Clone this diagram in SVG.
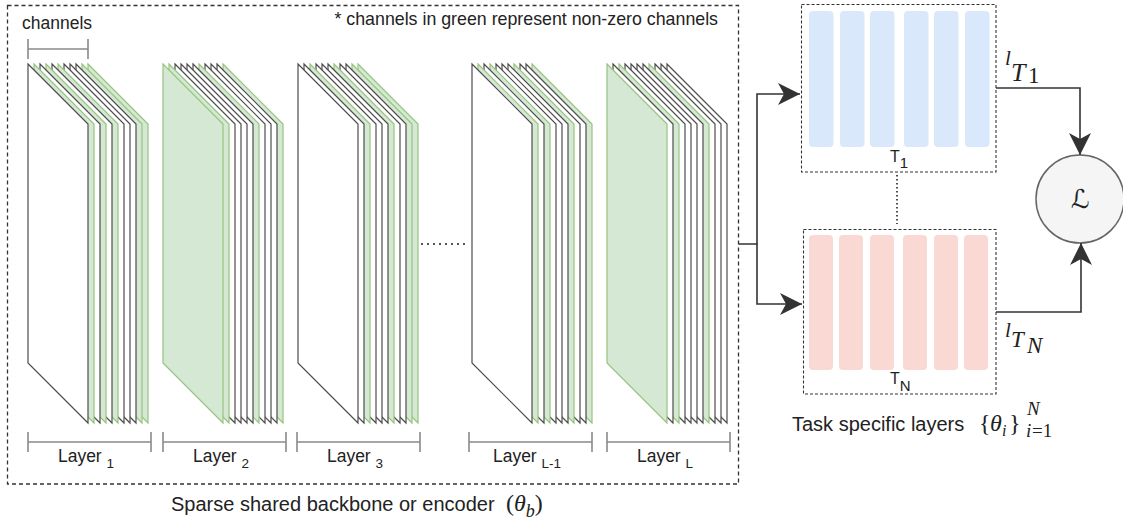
<svg xmlns="http://www.w3.org/2000/svg" xmlns:xlink="http://www.w3.org/1999/xlink" width="1123" height="525" viewBox="0 0 1123 525">
<style>
.w{fill:#ffffff;stroke:#4d4d4d;stroke-width:1.2}
.g{fill:#d5e8d4;stroke:#97c47f;stroke-width:1.2}
.br{fill:none;stroke:#8a8a8a;stroke-width:1.6}
.t{font-family:"Liberation Sans",Arial,sans-serif;fill:#222}
.m{font-family:"Liberation Serif","DejaVu Serif",serif;font-style:italic;fill:#222}
.up{font-style:normal}
.conn{fill:none;stroke:#333;stroke-width:1.6}
.tb{fill:none;stroke:#333;stroke-width:1.1;stroke-dasharray:3 2}
.blue{fill:#dae8fc}
.pink{fill:#fad9d5}
</style>
<defs>
<polygon id="sheet" points="0,0 60,60 60,359 0,299"/>
<marker id="arr" markerUnits="userSpaceOnUse" markerWidth="24" markerHeight="24" refX="22" refY="11" orient="auto" viewBox="0 0 24 24">
<path d="M0,0 L22,11 L0,22 L6,11 z" fill="#333"/>
</marker>
</defs>

<g id="backbone">
<rect x="7.5" y="5.5" width="731" height="478.5" fill="none" stroke="#333" stroke-width="1.3" stroke-dasharray="4 3"/>
<text class="t" x="718" y="25" font-size="17.8" text-anchor="end">* channels in green represent non-zero channels</text>
<g id="channels-bracket">
<text class="t" x="22" y="29" font-size="17.5">channels</text>
<path class="br" d="M28,39 V59 M88,39 V59 M28,49 H88"/>
</g>
</g>

<g id="layer1">
<use xlink:href="#sheet" x="88" y="64" class="g"/>
<use xlink:href="#sheet" x="82" y="64" class="g"/>
<use xlink:href="#sheet" x="76" y="64" class="w"/>
<use xlink:href="#sheet" x="70" y="64" class="w"/>
<use xlink:href="#sheet" x="64" y="64" class="w"/>
<use xlink:href="#sheet" x="58" y="64" class="g"/>
<use xlink:href="#sheet" x="52" y="64" class="w"/>
<use xlink:href="#sheet" x="46" y="64" class="g"/>
<use xlink:href="#sheet" x="40" y="64" class="w"/>
<use xlink:href="#sheet" x="34" y="64" class="g"/>
<use xlink:href="#sheet" x="28" y="64" class="w"/>
<path class="br" d="M28,432 V452 M151,432 V452 M28,442 H151"/>
<text class="t" x="86" y="462" font-size="17.5" text-anchor="middle">Layer <tspan font-size="13.5" dy="6">1</tspan></text>
</g>

<g id="layer2">
<use xlink:href="#sheet" x="223" y="64" class="g"/>
<use xlink:href="#sheet" x="217" y="64" class="w"/>
<use xlink:href="#sheet" x="211" y="64" class="w"/>
<use xlink:href="#sheet" x="205" y="64" class="w"/>
<use xlink:href="#sheet" x="199" y="64" class="g"/>
<use xlink:href="#sheet" x="193" y="64" class="w"/>
<use xlink:href="#sheet" x="187" y="64" class="w"/>
<use xlink:href="#sheet" x="181" y="64" class="w"/>
<use xlink:href="#sheet" x="175" y="64" class="w"/>
<use xlink:href="#sheet" x="169" y="64" class="g"/>
<use xlink:href="#sheet" x="163" y="64" class="g"/>
<path class="br" d="M163,432 V452 M286,432 V452 M163,442 H286"/>
<text class="t" x="221" y="462" font-size="17.5" text-anchor="middle">Layer <tspan font-size="13.5" dy="6">2</tspan></text>
</g>

<g id="layer3">
<use xlink:href="#sheet" x="358" y="64" class="g"/>
<use xlink:href="#sheet" x="352" y="64" class="g"/>
<use xlink:href="#sheet" x="346" y="64" class="w"/>
<use xlink:href="#sheet" x="340" y="64" class="w"/>
<use xlink:href="#sheet" x="334" y="64" class="g"/>
<use xlink:href="#sheet" x="328" y="64" class="w"/>
<use xlink:href="#sheet" x="322" y="64" class="w"/>
<use xlink:href="#sheet" x="316" y="64" class="w"/>
<use xlink:href="#sheet" x="310" y="64" class="g"/>
<use xlink:href="#sheet" x="304" y="64" class="w"/>
<use xlink:href="#sheet" x="298" y="64" class="w"/>
<path class="br" d="M297,432 V452 M420,432 V452 M297,442 H420"/>
<text class="t" x="355" y="462" font-size="17.5" text-anchor="middle">Layer <tspan font-size="13.5" dy="6">3</tspan></text>
</g>

<g id="ellipsis">
<line x1="421" y1="244" x2="466" y2="244" stroke="#555" stroke-width="2" stroke-dasharray="2 4"/>
</g>

<g id="layerL-1">
<use xlink:href="#sheet" x="532" y="64" class="g"/>
<use xlink:href="#sheet" x="526" y="64" class="w"/>
<use xlink:href="#sheet" x="520" y="64" class="w"/>
<use xlink:href="#sheet" x="514" y="64" class="g"/>
<use xlink:href="#sheet" x="508" y="64" class="w"/>
<use xlink:href="#sheet" x="502" y="64" class="w"/>
<use xlink:href="#sheet" x="496" y="64" class="w"/>
<use xlink:href="#sheet" x="490" y="64" class="g"/>
<use xlink:href="#sheet" x="484" y="64" class="w"/>
<use xlink:href="#sheet" x="478" y="64" class="g"/>
<use xlink:href="#sheet" x="472" y="64" class="w"/>
<path class="br" d="M469,432 V452 M592,432 V452 M469,442 H592"/>
<text class="t" x="527" y="462" font-size="17.5" text-anchor="middle">Layer <tspan font-size="13.5" dy="6">L-1</tspan></text>
</g>

<g id="layerL">
<use xlink:href="#sheet" x="667" y="64" class="w"/>
<use xlink:href="#sheet" x="661" y="64" class="w"/>
<use xlink:href="#sheet" x="655" y="64" class="w"/>
<use xlink:href="#sheet" x="649" y="64" class="g"/>
<use xlink:href="#sheet" x="643" y="64" class="w"/>
<use xlink:href="#sheet" x="637" y="64" class="w"/>
<use xlink:href="#sheet" x="631" y="64" class="w"/>
<use xlink:href="#sheet" x="625" y="64" class="w"/>
<use xlink:href="#sheet" x="619" y="64" class="g"/>
<use xlink:href="#sheet" x="613" y="64" class="w"/>
<use xlink:href="#sheet" x="607" y="64" class="g"/>
<path class="br" d="M607,432 V452 M730,432 V452 M607,442 H730"/>
<text class="t" x="665" y="462" font-size="17.5" text-anchor="middle">Layer <tspan font-size="13.5" dy="6">L</tspan></text>
</g>

<text class="t" x="171" y="511" font-size="20">Sparse shared backbone or encoder</text>
<text class="m" x="506" y="511" font-size="24"><tspan class="up">(</tspan>θ<tspan font-size="18" dy="6">b</tspan><tspan class="up" dy="-6">)</tspan></text>

<g id="task1">
<rect class="tb" x="801.5" y="4.5" width="194.5" height="167.5"/>
<rect class="blue" x="809" y="11" width="24.5" height="136" rx="4"/>
<rect class="blue" x="840" y="11" width="24.5" height="136" rx="4"/>
<rect class="blue" x="870" y="11" width="24.5" height="136" rx="4"/>
<rect class="blue" x="904" y="11" width="24.5" height="136" rx="4"/>
<rect class="blue" x="934" y="11" width="24.5" height="136" rx="4"/>
<rect class="blue" x="965" y="11" width="24.5" height="136" rx="4"/>
<text class="t" x="890" y="162" font-size="16">T<tspan font-size="15" dy="6">1</tspan></text>
</g>

<g id="taskN">
<rect class="tb" x="803.5" y="229.5" width="192.5" height="164.5"/>
<rect class="pink" x="809" y="235" width="24" height="135" rx="4"/>
<rect class="pink" x="839" y="235" width="24" height="135" rx="4"/>
<rect class="pink" x="870" y="235" width="24" height="135" rx="4"/>
<rect class="pink" x="903" y="235" width="24" height="135" rx="4"/>
<rect class="pink" x="934" y="235" width="24" height="135" rx="4"/>
<rect class="pink" x="964" y="235" width="24" height="135" rx="4"/>
<text class="t" x="890" y="384" font-size="16">T<tspan font-size="15" dy="7">N</tspan></text>
</g>

<text class="t" x="792" y="431" font-size="20">Task specific layers</text>
<text class="m" font-size="24"><tspan class="up" x="979" y="431">{</tspan><tspan x="990" y="431">θ</tspan><tspan x="1002" y="436" font-size="16">i</tspan><tspan class="up" x="1009" y="431">}</tspan><tspan x="1027" y="415" font-size="19">N</tspan><tspan x="1026" y="437" font-size="19">i</tspan><tspan class="up" x="1032" y="437" font-size="19">=1</tspan></text>

<g id="loss">
<circle cx="1080" cy="199" r="44" fill="#f5f5f5" stroke="#666" stroke-width="1.5"/>
<text x="1080" y="208" font-size="26" text-anchor="middle" font-family="'DejaVu Sans','Liberation Serif',serif" fill="#222">ℒ</text>
</g>

<text class="m" font-size="21"><tspan x="1005" y="65">l</tspan><tspan x="1011" y="81" font-size="26">T</tspan><tspan class="up" x="1028" y="83" font-size="23">1</tspan></text>
<text class="m" font-size="21"><tspan x="1005" y="337">l</tspan><tspan x="1011" y="347" font-size="23">T</tspan><tspan x="1027" y="353" font-size="23">N</tspan></text>

<g id="connectors">
<path class="conn" d="M739,244 H757 V94 H800" marker-end="url(#arr)"/>
<path class="conn" d="M757,244 V304 H802" marker-end="url(#arr)"/>
<path class="conn" d="M996,88 H1080 V155" marker-end="url(#arr)"/>
<path class="conn" d="M996,312 H1081 V243" marker-end="url(#arr)"/>
<line x1="897" y1="175" x2="897" y2="224" stroke="#111" stroke-width="1.5" stroke-dasharray="1.5 2.5"/>
</g>
</svg>
